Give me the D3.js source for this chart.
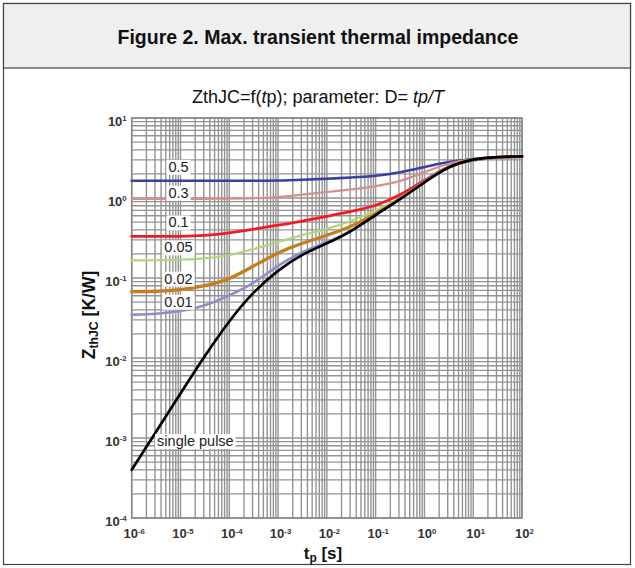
<!DOCTYPE html>
<html>
<head>
<meta charset="utf-8">
<script src="https://cdn.jsdelivr.net/npm/d3@7"></script>
<style>
  html, body { margin: 0; padding: 0; background: #fff; }
  svg { display: block; font-family: Arial, "Liberation Sans", sans-serif; }
</style>
</head>
<body>
<svg id="chart" width="635" height="568"></svg>
<script>
// Pulse durations tp [s], half-decade steps
const tp = [1e-6, 3.16e-6, 1e-5, 3.16e-5, 1e-4, 3.16e-4, 1e-3, 3.16e-3, 1e-2,
            3.16e-2, 1e-1, 3.16e-1, 1, 3.16, 10, 31.6, 100];

// Zth,JC [K/W] for each duty cycle D = tp/T
const zD05   = [1.64, 1.64, 1.64, 1.64, 1.64, 1.64, 1.65, 1.69, 1.74, 1.80, 1.88, 2.07, 2.45, 2.85, 3.09, 3.24, 3.31];
const zD03   = [0.977, 0.977, 0.977, 0.977, 0.980, 0.989, 1.02, 1.10, 1.19, 1.28, 1.40, 1.60, 2.10, 2.75, 3.09, 3.24, 3.31];
const zD01   = [0.331, 0.331, 0.331, 0.339, 0.363, 0.407, 0.457, 0.513, 0.589, 0.676, 0.794, 1.07, 1.66, 2.57, 3.02, 3.24, 3.31];
const zD005  = [0.166, 0.166, 0.170, 0.174, 0.191, 0.229, 0.282, 0.347, 0.405, 0.513, 0.692, 0.977, 1.62, 2.57, 3.02, 3.24, 3.31];
const zD002  = [0.0676, 0.0676, 0.0708, 0.0794, 0.0955, 0.141, 0.210, 0.275, 0.339, 0.437, 0.631, 0.955, 1.62, 2.57, 3.02, 3.24, 3.31];
const zD001  = [0.0347, 0.0355, 0.038, 0.0447, 0.0603, 0.085, 0.145, 0.215, 0.280, 0.380, 0.617, 0.955, 1.62, 2.57, 3.02, 3.24, 3.31];
const zSingle = [0.0004, 0.0012, 0.0036, 0.0107, 0.0295, 0.068, 0.126, 0.200, 0.269, 0.380, 0.617, 0.955, 1.58, 2.51, 3.09, 3.27, 3.31];

const dutyLabels = ["0.5", "0.3", "0.1", "0.05", "0.02", "0.01"];
const dutyValues = [zD05, zD03, zD01, zD005, zD002, zD001];
const dutyColors = ["#3b3f9e", "#d49090", "#f01c24", "#b4d47c", "#c47e1c", "#8d8fc2"];
const dutyWidths = [2.6, 2.2, 2.8, 2.2, 3.2, 2.6];
// Vertical gap between each label and its curve (px)
const labelGaps = [14, 6, 14, 13, 13, 13];

const xTicks = [1e-6, 1e-5, 1e-4, 1e-3, 1e-2, 1e-1, 1, 10, 100];
const yTicks = [1e-4, 1e-3, 1e-2, 1e-1, 1, 10];

const svg = d3.select("#chart");

// Card frame and header
svg.append("rect").attr("x", 3.5).attr("y", 3.5).attr("width", 627).attr("height", 561)
  .attr("fill", "#fff").attr("stroke", "#444").attr("stroke-width", 1.2);
svg.append("rect").attr("x", 3.5).attr("y", 3.5).attr("width", 627).attr("height", 64.5)
  .attr("fill", "#efefef").attr("stroke", "#444").attr("stroke-width", 1.2);
svg.append("text").attr("x", 318).attr("y", 44).attr("text-anchor", "middle")
  .attr("font-size", 19.5).attr("font-weight", "bold").attr("fill", "#111")
  .text("Figure 2. Max. transient thermal impedance");

const sub = svg.append("text").attr("x", 318).attr("y", 103).attr("text-anchor", "middle")
  .attr("font-size", 18).attr("fill", "#111");
sub.append("tspan").text("ZthJC=f(");
sub.append("tspan").attr("font-style", "italic").text("t");
sub.append("tspan").text("p); parameter: D= ");
sub.append("tspan").attr("font-style", "italic").text("tp/T");

// Plot area
const x0 = 131.7, x1 = 522, y0 = 518, y1 = 118;
const x = d3.scaleLog().domain([1e-6, 100]).range([x0, x1]);
const y = d3.scaleLog().domain([1e-4, 10]).range([y0, y1]);

// Logarithmic grid: decades and their 2..9 subdivisions
const gridX = [], gridY = [];
for (let e = -6; e < 2; e++) for (let k = 1; k < 10; k++) gridX.push(k * Math.pow(10, e));
gridX.push(100);
for (let e = -4; e < 1; e++) for (let k = 1; k < 10; k++) gridY.push(k * Math.pow(10, e));
gridY.push(10);

const grid = svg.append("g").attr("stroke", "#939393").attr("stroke-width", 1.4);
grid.selectAll("line.gx").data(gridX).join("line").attr("class", "gx")
  .attr("x1", d => x(d)).attr("x2", d => x(d)).attr("y1", y0).attr("y2", y1);
grid.selectAll("line.gy").data(gridY).join("line").attr("class", "gy")
  .attr("y1", d => y(d)).attr("y2", d => y(d)).attr("x1", x0).attr("x2", x1);
svg.append("rect").attr("x", x0).attr("y", y1).attr("width", x1 - x0).attr("height", y0 - y1)
  .attr("fill", "none").attr("stroke", "#8a8a8a").attr("stroke-width", 1.6);

// Power-of-ten tick labels
function powLabel(textSel) {
  textSel.each(function (d) {
    const e = Math.round(Math.log10(d));
    const t = d3.select(this).text(null);
    t.append("tspan").text("10");
    t.append("tspan").attr("dy", "-0.55em").attr("font-size", "0.6em").text(e);
  });
}

const xAxis = svg.append("g").attr("transform", `translate(0,${y0})`)
  .call(d3.axisBottom(x).tickValues(xTicks).tickSize(0).tickPadding(0).tickFormat(() => ""));
xAxis.select(".domain").remove();
xAxis.selectAll(".tick text").attr("y", 20).attr("dy", 0).attr("dx", 2)
  .attr("font-size", 13).attr("font-weight", "bold").attr("fill", "#333")
  .attr("font-family", "Arial, 'Liberation Sans', sans-serif").call(powLabel);

const yAxis = svg.append("g").attr("transform", `translate(${x0},0)`)
  .call(d3.axisLeft(y).tickValues(yTicks).tickSize(0).tickPadding(0).tickFormat(() => ""));
yAxis.select(".domain").remove();
yAxis.selectAll(".tick text").attr("x", -5).attr("dy", 7)
  .attr("font-size", 13).attr("font-weight", "bold").attr("fill", "#333")
  .attr("font-family", "Arial, 'Liberation Sans', sans-serif").call(powLabel);

// Axis titles
const xt = svg.append("text").attr("x", 323).attr("y", 559).attr("text-anchor", "middle")
  .attr("font-size", 17).attr("font-weight", "bold").attr("fill", "#111");
xt.append("tspan").text("t");
xt.append("tspan").attr("font-size", "0.7em").attr("dy", "0.25em").text("p");
xt.append("tspan").attr("dy", "-0.18em").text(" [s]");

const yt = svg.append("text").attr("transform", "translate(95,315) rotate(-90)")
  .attr("text-anchor", "middle").attr("font-size", 17.5).attr("font-weight", "bold").attr("fill", "#111");
yt.append("tspan").text("Z");
yt.append("tspan").attr("font-size", "0.7em").attr("dy", "0.25em").text("thJC");
yt.append("tspan").attr("dy", "-0.18em").text(" [K/W]");

// Curves
const line = d3.line().x((d, i) => x(tp[i])).y(d => y(d)).curve(d3.curveBasis);
const curves = svg.append("g").attr("fill", "none").attr("stroke-linejoin", "round").attr("stroke-linecap", "round");
dutyValues.forEach((vals, i) => {
  curves.append("path").attr("d", line(vals)).attr("stroke", dutyColors[i]).attr("stroke-width", dutyWidths[i]);
});
curves.append("path").attr("d", line(zSingle)).attr("stroke", "#000").attr("stroke-width", 2.7);

// Duty-cycle labels above each curve, with white boxes over the grid
const labels = svg.append("g").attr("font-size", 14.5).attr("fill", "#222");
function boxedLabel(px, py, txt, anchor) {
  const t = labels.append("text").attr("x", px).attr("y", py).attr("text-anchor", anchor)
    .attr("dominant-baseline", "central").text(txt);
  const b = t.node().getBBox();
  labels.insert("rect", "text").attr("x", b.x - 2).attr("y", b.y + 1).attr("width", b.width + 4)
    .attr("height", b.height - 1).attr("fill", "#fff");
}
dutyValues.forEach((vals, i) => {
  boxedLabel(x(tp[2]) - 2, y(vals[0]) - labelGaps[i], dutyLabels[i], "middle");
});
boxedLabel(x(2.5e-6) + 6, y(1e-3) + 3, "single pulse", "start");
</script>
</body>
</html>
